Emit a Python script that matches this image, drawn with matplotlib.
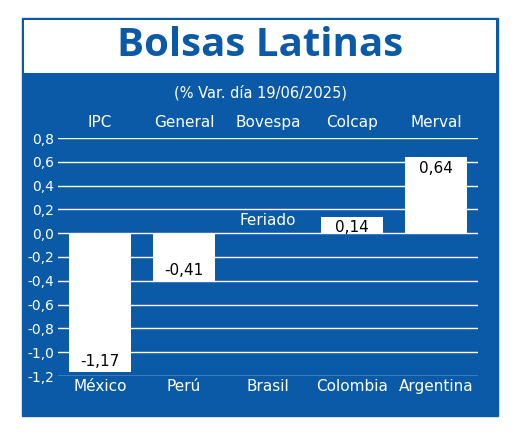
import matplotlib.pyplot as plt
from matplotlib.patches import Rectangle

paises = ["México", "Perú", "Brasil", "Colombia", "Argentina"]
indices = ["IPC", "General", "Bovespa", "Colcap", "Merval"]
valores = [-1.17, -0.41, 0.0, 0.14, 0.64]
etiquetas = ["-1,17", "-0,41", "Feriado", "0,14", "0,64"]
ticks = [0.8, 0.6, 0.4, 0.2, 0.0, -0.2, -0.4, -0.6, -0.8, -1.0, -1.2]

blue = "#0a5aa8"
W, H = 520, 432
fig = plt.figure(figsize=(W / 100, H / 100), dpi=100)
fig.patch.set_facecolor("white")

def px(x, y, w, h):
    return [x / W, 1 - (y + h) / H, w / W, h / H]

# marco azul y panel del titulo
fig.add_artist(Rectangle((22 / W, 1 - 416 / H), 476 / W, 398 / H,
                         transform=fig.transFigure, color=blue, zorder=0))
fig.add_artist(Rectangle((24 / W, 1 - 73 / H), 472 / W, 53 / H,
                         transform=fig.transFigure, facecolor="white",
                         edgecolor="none", zorder=1))
fig.text(0.5, 1 - 46 / H, "Bolsas Latinas", color=blue, fontsize=29,
         fontweight="bold", ha="center", va="center", family="Open Sans")
fig.text(0.5, 1 - 93 / H, "(% Var. día 19/06/2025)", color="white",
         fontsize=10.5, ha="center", va="center")

ax = fig.add_axes(px(58, 138, 420, 238))
ax.set_facecolor(blue)
ax.set_xlim(-0.5, 4.5)
ax.set_ylim(-1.2, 0.8)
ax.set_yticks(ticks)
ax.set_yticklabels([f"{t:.1f}".replace(".", ",") for t in ticks],
                   color="white", fontsize=10)
ax.set_xticks(range(5))
ax.set_xticklabels(paises, color="white", fontsize=11)
ax.tick_params(axis="x", length=0, pad=2)
ax.tick_params(axis="y", length=0, pad=3)
for s in ax.spines.values():
    s.set_visible(False)
ax.grid(axis="y", color="white", linewidth=1)
ax.set_axisbelow(True)

ax.bar(range(5), valores, width=0.74, color="white", zorder=3)

for i, (v, lab) in enumerate(zip(valores, etiquetas)):
    if lab == "Feriado":
        ax.text(i, 0.04, lab, color="white", fontsize=11, ha="center", va="bottom", zorder=4)
    elif v < 0:
        ax.text(i, v + 0.03, lab, color="black", fontsize=11, ha="center", va="bottom", zorder=4)
    else:
        ax.text(i, v - 0.03, lab, color="black", fontsize=11, ha="center", va="top", zorder=4)

for i, name in enumerate(indices):
    ax.text(i, 0.87, name, color="white", fontsize=11, ha="center", va="bottom",
            transform=ax.transData, clip_on=False)

fig.savefig("out.png", dpi=100, facecolor="white")
